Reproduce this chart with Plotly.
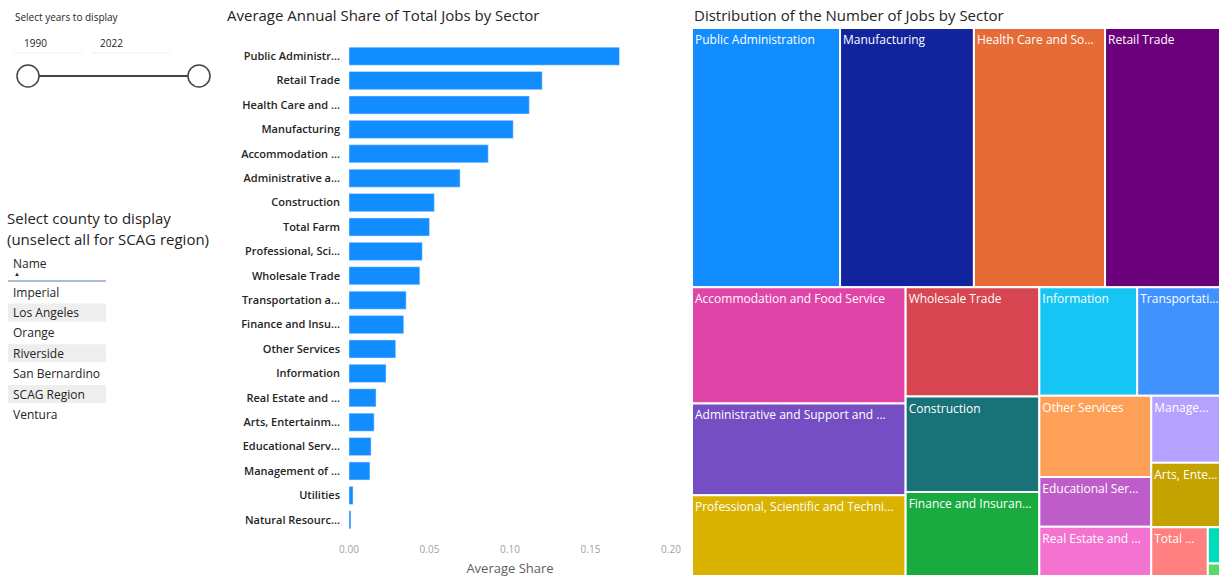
import plotly.graph_objects as go

# Sectores y participacion media anual (grafico de barras)
sectors = ['Public Administration', 'Retail Trade', 'Health Care and Social Assistance',
           'Manufacturing', 'Accommodation and Food Service', 'Administrative and Support and Waste Management',
           'Construction', 'Total Farm', 'Professional, Scientific and Technical Services',
           'Wholesale Trade', 'Transportation and Warehousing', 'Finance and Insurance',
           'Other Services', 'Information', 'Real Estate and Rental and Leasing',
           'Arts, Entertainment and Recreation', 'Educational Services',
           'Management of Companies and Enterprises', 'Utilities', 'Natural Resources and Mining']
bar_labels = ['Public Administr...', 'Retail Trade', 'Health Care and ...', 'Manufacturing',
              'Accommodation ...', 'Administrative a...', 'Construction', 'Total Farm',
              'Professional, Sci...', 'Wholesale Trade', 'Transportation a...', 'Finance and Insu...',
              'Other Services', 'Information', 'Real Estate and ...', 'Arts, Entertainm...',
              'Educational Serv...', 'Management of ...', 'Utilities', 'Natural Resourc...']
avg_share = [0.168, 0.120, 0.112, 0.102, 0.0865, 0.069, 0.053, 0.050, 0.0455, 0.044,
             0.0355, 0.034, 0.029, 0.023, 0.0168, 0.0156, 0.0137, 0.013, 0.0025, 0.0012]

# Numero de empleos por sector (treemap)
tm_sectors = ['Public Administration', 'Manufacturing', 'Health Care and Social Assistance', 'Retail Trade',
              'Accommodation and Food Service', 'Administrative and Support and Waste Management',
              'Professional, Scientific and Technical Services', 'Wholesale Trade', 'Construction',
              'Finance and Insurance', 'Information', 'Transportation and Warehousing', 'Other Services',
              'Educational Services', 'Real Estate and Rental and Leasing',
              'Management of Companies and Enterprises', 'Arts, Entertainment and Recreation',
              'Total Farm', 'Utilities', 'Natural Resources and Mining']
tm_text = ['Public Administration', 'Manufacturing', 'Health Care and So...', 'Retail Trade',
           'Accommodation and Food Service', 'Administrative and Support and ...',
           'Professional, Scientific and Techni...', 'Wholesale Trade', 'Construction',
           'Finance and Insuran...', 'Information', 'Transportati...', 'Other Services',
           'Educational Ser...', 'Real Estate and ...', 'Manage...', 'Arts, Ente...',
           'Total ...', '', '']
tm_jobs = [37600, 34000, 33300, 29200, 24300, 19200, 16900, 14300, 12500, 11000,
           10400, 8800, 8900, 5450, 5400, 4500, 4350, 2700, 430, 150]
tm_colors = ['#118DFF', '#12239E', '#E66C37', '#6B007B', '#E044A7', '#744EC2', '#D9B300',
             '#D64550', '#197278', '#1AAB40', '#15C6F4', '#4092FF', '#FFA058', '#BE5DC9',
             '#F472D0', '#B5A1FF', '#C4A200', '#FF8080', '#00DBBC', '#5BD667']

counties = ['Imperial', 'Los Angeles', 'Orange', 'Riverside', 'San Bernardino', 'SCAG Region', 'Ventura']
years = ['1990', '2022']

FONT = 'Segoe UI, Open Sans, sans-serif'
W, H = 1220, 580

fig = go.Figure()

fig.add_trace(go.Bar(
    x=avg_share, y=sectors, orientation='h',
    marker=dict(color='#118DFF'), width=0.74,
    xaxis='x', yaxis='y', showlegend=False,
))

fig.add_trace(go.Treemap(
    labels=tm_sectors, parents=[''] * len(tm_sectors), values=tm_jobs,
    text=tm_text, texttemplate='%{text}', textposition='top left',
    textfont=dict(family=FONT, size=12, color='white'),
    marker=dict(colors=tm_colors, line=dict(color='white', width=2), pad=dict(t=0, l=0, r=0, b=0)),
    tiling=dict(packing='squarify', squarifyratio=1.618, pad=0),
    pathbar=dict(visible=False), sort=False,
    domain=dict(x=[692 / W, 1.0], y=[4 / H, 552 / H]),
    hoverinfo='label+value',
))

fig.update_layout(
    width=W, height=H,
    margin=dict(l=0, r=0, t=0, b=0),
    paper_bgcolor='white', plot_bgcolor='white',
    font=dict(family=FONT, color='#252423'),
    uniformtext=dict(minsize=12, mode='show'),
    xaxis=dict(domain=[349 / W, 671 / W], range=[0, 0.2], tickvals=[0, 0.05, 0.1, 0.15, 0.2],
               tickformat='.2f', showgrid=False, zeroline=False, showline=False,
               tickfont=dict(size=10, color='#a19f9d'), ticks='', automargin=False,
               ticklabelstandoff=10,
               title=dict(text='Average Share', font=dict(size=13, color='#605E5C'), standoff=8),
               anchor='y'),
    yaxis=dict(domain=[48 / H, 536 / H], autorange='reversed', tickvals=sectors, ticktext=bar_labels,
               showgrid=False, zeroline=False, showline=False, ticks='', automargin=False,
               tickfont=dict(size=11, color='#252423', weight=600), ticklabelstandoff=8,
               anchor='x'),
)

ann = []
shapes = []


def px(x):
    return x / W


def py(y):
    return 1 - y / H


# titulos
ann.append(dict(x=px(225), y=py(15), text='Average Annual Share of Total Jobs by Sector',
                font=dict(size=15, color='#252423')))
ann.append(dict(x=px(692), y=py(15), text='Distribution of the Number of Jobs by Sector',
                font=dict(size=15, color='#252423')))

# slicer de anios
ann.append(dict(x=px(13), y=py(17), text='Select years to display', font=dict(size=10, color='#252423')))
ann.append(dict(x=px(22), y=py(43), text=years[0], font=dict(size=10, color='#252423')))
ann.append(dict(x=px(98), y=py(43), text=years[1], font=dict(size=10, color='#252423')))
shapes.append(dict(type='line', xref='paper', yref='paper', x0=px(14), x1=px(82), y0=py(53), y1=py(53),
                   line=dict(color='#eeeeee', width=1)))
shapes.append(dict(type='line', xref='paper', yref='paper', x0=px(92), x1=px(170), y0=py(53), y1=py(53),
                   line=dict(color='#eeeeee', width=1)))
shapes.append(dict(type='line', xref='paper', yref='paper', x0=px(28), x1=px(199), y0=py(76), y1=py(76),
                   line=dict(color='#444444', width=2)))
for cx in (28, 199):
    shapes.append(dict(type='circle', xref='paper', yref='paper', x0=px(cx - 11), x1=px(cx + 11),
                       y0=py(87), y1=py(65), fillcolor='white', line=dict(color='#444444', width=1.5)))

# slicer de condados
ann.append(dict(x=px(5), y=py(218), text='Select county to display', font=dict(size=15, color='#252423')))
ann.append(dict(x=px(5), y=py(239), text='(unselect all for SCAG region)', font=dict(size=15, color='#252423')))
ann.append(dict(x=px(11), y=py(263), text='Name', font=dict(size=12, color='#252423')))
ann.append(dict(x=px(12), y=py(274), text='▲', font=dict(size=6, color='#252423')))
shapes.append(dict(type='line', xref='paper', yref='paper', x0=px(8), x1=px(106), y0=py(281), y1=py(281),
                   line=dict(color='#8fa6c4', width=1.5)))
for i, c in enumerate(counties):
    yc = 292 + i * 20.4
    if i % 2 == 1:
        shapes.append(dict(type='rect', xref='paper', yref='paper', x0=px(8), x1=px(106),
                           y0=py(yc + 9), y1=py(yc - 9), fillcolor='#eeeeee', line=dict(width=0),
                           layer='below'))
    ann.append(dict(x=px(11), y=py(yc), text=c, font=dict(size=12, color='#252423')))

for a in ann:
    a.update(xref='paper', yref='paper', xanchor='left', yanchor='middle', showarrow=False)

fig.update_layout(annotations=ann, shapes=shapes)

# quitar el margen del body para que la figura empiece en (0, 0)
fig.write_html('out.html', config={'displayModeBar': False},
               post_script="document.body.style.margin='0';")
